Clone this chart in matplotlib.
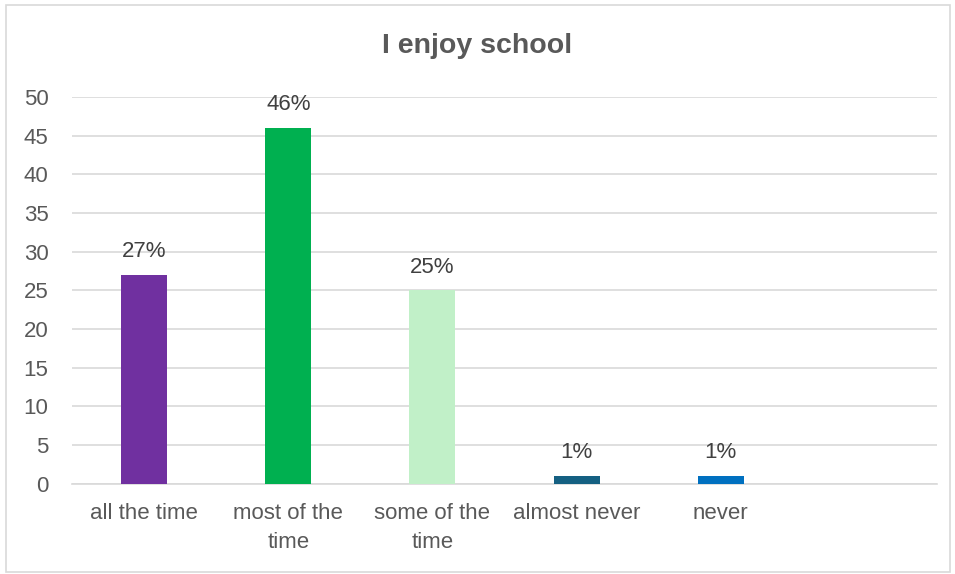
import matplotlib
matplotlib.use("Agg")
import matplotlib.pyplot as plt
from matplotlib.patches import Rectangle

categories = ["all the time", "most of the\ntime", "some of the\ntime", "almost never", "never", ""]
values = [27, 46, 25, 1, 1]
labels = ["27%", "46%", "25%", "1%", "1%"]
colors = ["#7030A0", "#00B050", "#C1F0C8", "#156082", "#0070C0"]
title = "I enjoy school"
yticks = [0, 5, 10, 15, 20, 25, 30, 35, 40, 45, 50]

plt.rcParams['font.family'] = ['Liberation Sans', 'DejaVu Sans']
txt = "#595959"

fig = plt.figure(figsize=(9.55, 5.74), dpi=100)
fig.patches.append(Rectangle((6/955, 2/574), 944/955, 567/574, transform=fig.transFigure,
                             fill=False, edgecolor="#D9D9D9", linewidth=1.2))
ax = fig.add_axes([72/955, 1 - 483.5/574, 865/955, (483.5 - 97)/574])

x = list(range(len(values)))
bars = ax.bar(x, values, width=0.32, color=colors, zorder=3)
for b, lab in zip(bars, labels):
    ax.annotate(lab, (b.get_x() + b.get_width() / 2, b.get_height()),
                xytext=(0, 9), textcoords="offset points", ha="center", va="bottom",
                fontsize=16, color="#404040")

ax.set_xlim(-0.5, len(categories) - 0.5)
ax.set_ylim(0, 50)
ax.set_yticks(yticks)
ax.set_xticks(range(len(categories)))
ax.set_xticklabels(categories, fontsize=16, color=txt, linespacing=1.5)
ax.tick_params(axis="y", labelsize=16, labelcolor=txt, length=0, pad=17)
ax.tick_params(axis="x", length=0, pad=14)
ax.grid(axis="y", color="#D9D9D9", linewidth=1.2, zorder=0)
for s in ["top", "right", "left"]:
    ax.spines[s].set_visible(False)
ax.spines["bottom"].set_color("#D9D9D9")
ax.spines["bottom"].set_linewidth(1.2)

fig.text(0.5, 1 - 46/574, title, ha="center", va="center", fontsize=20.5,
         fontweight="bold", color=txt)

fig.savefig("out.png", dpi=100)
